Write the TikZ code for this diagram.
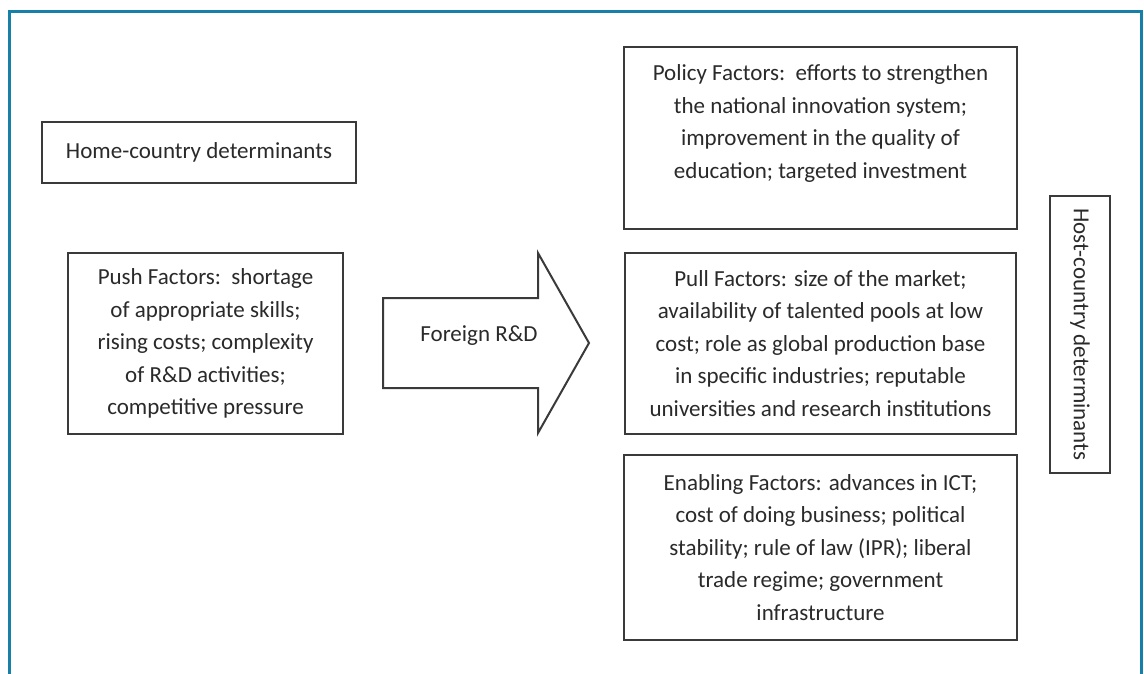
\documentclass[tikz,border=0pt]{standalone}
\usepackage{fontspec}
\setmainfont{Carlito}
\usepackage{xcolor}
\usepackage{tikz}
\usetikzlibrary{positioning}
\definecolor{frameteal}{HTML}{1780A8}
\definecolor{boxline}{HTML}{3A3A3A}
\definecolor{txtgray}{HTML}{2A2A2A}

\begin{document}
\begin{tikzpicture}[
  x=1pt, y=-1pt,
  factorbox/.style={rectangle, draw=boxline, line width=2pt, fill=white, align=center, inner sep=0pt,
    font=\fontsize{23pt}{32.5pt}\selectfont\color{txtgray}},
  labelbox/.style={factorbox},
  shaftarr/.style={draw=boxline, line width=2pt, fill=white, line join=miter},
]
% canvas in pixel units, y running downwards
\useasboundingbox (0,0) rectangle (1144,673);
\draw[frameteal, line width=3pt] (9,690) -- (9,11) -- (1141.5,11) -- (1141.5,690);

% Home side
\node[labelbox, minimum width=314pt, minimum height=61pt] (home) at (199,152.5) {Home-country determinants};
\node[factorbox, minimum width=275pt, minimum height=181pt] (push) at (205.5,343.5)
  {Push Factors:\ \ shortage\\ of appropriate skills;\\ rising costs; complexity\\ of R\&D activities;\\ competitive pressure};

% Big arrow in the middle
\draw[shaftarr] (383,298) -- (538,298) -- (538,253) -- (589,343) -- (538,433) -- (538,388) -- (383,388) -- cycle;
\node[font=\fontsize{23pt}{32.5pt}\selectfont\color{txtgray}] (rnd) at (479,336) {Foreign R\&D};

% Host side: three factor groups
\node[factorbox, minimum width=393pt, minimum height=182pt] (policy) at (820.5,138)
  {Policy Factors:\ \ efforts to strengthen\\ the national innovation system;\\ improvement in the quality of\\ education; targeted investment\\ \mbox{}};
\node[factorbox, minimum width=391pt, minimum height=181pt] (pull) at (820.5,343.5)
  {Pull Factors: size of the market;\\ availability of talented pools at low\\ cost; role as global production base\\ in specific industries; reputable\\ universities and research institutions};
\node[factorbox, minimum width=393pt, minimum height=185pt] (enabling) at (820.5,547.5)
  {Enabling Factors: advances in ICT;\\ cost of doing business; political\\ stability; rule of law (IPR); liberal\\ trade regime; government\\ infrastructure};
\node[labelbox, rotate=-90, minimum width=277pt, minimum height=60pt] (host) at (1080,334.5) {Host-country determinants};
\end{tikzpicture}
\end{document}
